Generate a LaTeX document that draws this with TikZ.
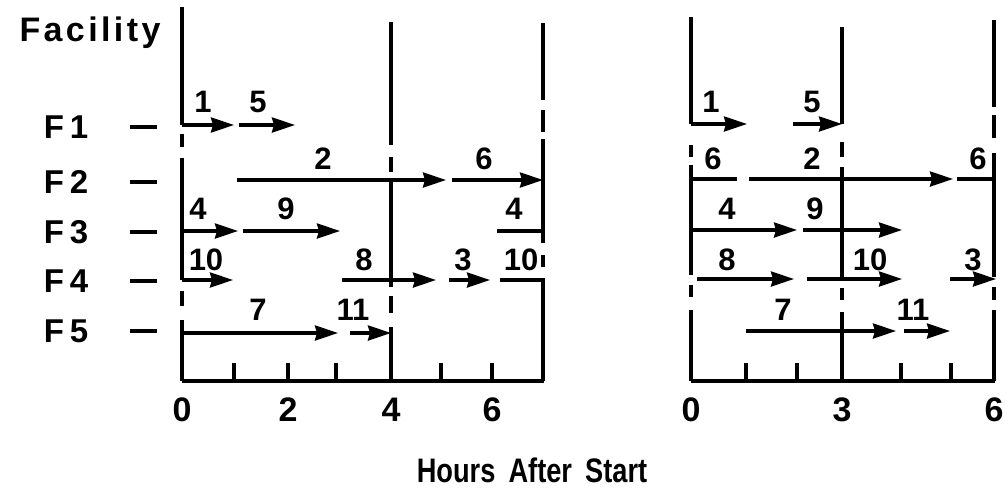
\documentclass[tikz,border=0pt]{standalone}
\usepackage{fontspec}
\usepackage{graphicx}
\setmainfont{Liberation Sans}
\newfontfamily\lblfont{Liberation Sans Bold}
\newfontfamily\facfont[LetterSpace=10]{Liberation Sans Bold}
\newfontfamily\rowfont[LetterSpace=18]{Liberation Sans Bold}
\usetikzlibrary{arrows.meta}
\tikzset{
  ln/.style={line width=3.3pt},
  ar/.style={line width=3.3pt,-{Stealth[length=23pt,width=15pt,inset=2pt]}},
  num/.style={font=\lblfont\fontsize{31}{31}\selectfont,inner sep=0pt},
  ax/.style={font=\lblfont\fontsize{34}{34}\selectfont,inner sep=0pt},
  rowlbl/.style={font=\rowfont\fontsize{33}{33}\selectfont,inner sep=0pt},
  big/.style={font=\facfont\fontsize{34}{34}\selectfont,inner sep=0pt},
  title/.style={font=\lblfont\fontsize{34}{34}\selectfont,inner sep=0pt},
}
\begin{document}
\begin{tikzpicture}[x=1pt,y=-1pt]
\useasboundingbox (0,0) rectangle (1008,501);
% ---------- labels left ----------
\node[big] (fac) at (90,33) {Facility};
\foreach \n/\y in {1/127,2/182,3/232,4/281,5/331}{
  \node[rowlbl] (F\n) at (66,\y) {F\n};
  \draw[ln] (130,\y) -- (157,\y);
}
% ---------- left chart ----------
% vertical line at 0
\draw[ln] (182,7) -- (182,125);
\draw[ln] (182,134) -- (182,147);
\draw[ln] (182,158) -- (182,280);
\draw[ln] (182,291) -- (182,306);
\draw[ln] (182,320) -- (182,381);
% vertical line at 4
\draw[ln] (391,22) -- (391,145);
\draw[ln] (391,157) -- (391,172);
\draw[ln] (391,178) -- (391,287);
\draw[ln] (391,296) -- (391,313);
\draw[ln] (391,327) -- (391,381);
% vertical line at 7
\draw[ln] (543,23) -- (543,100);
\draw[ln] (543,110) -- (543,132);
\draw[ln] (543,139) -- (543,243);
\draw[ln] (543,255) -- (543,267);
% axis
\draw[ln] (182,381) -- (544,381);
\foreach \x in {234,288,336,441,492}{ \draw[ln] (\x,381) -- (\x,363); }
\foreach \x/\t in {182/0,288/2,391/4,492/6}{ \node[ax] at (\x,410) {\t}; }
% F1
\draw[ar] (182,125) -- (234,125);  \node[num] at (203,102) {1};
\draw[ar] (239,125) -- (295,125);  \node[num] at (258,102) {5};
% F2
\draw[ar] (237,180) -- (446,180);  \node[num] at (323,159) {2};
\draw[ar] (452,180) -- (543,180);  \node[num] at (484,159) {6};
% F3
\draw[ar] (182,231) -- (238,231);  \node[num] at (198,209) {4};
\draw[ar] (243,231) -- (340,231);  \node[num] at (286,209) {9};
\draw[ln] (497,231) -- (543,231);  \node[num] at (514,209) {4};
% F4
\draw[ar] (182,280) -- (233,280);  \node[num] at (206,260) {10};
\draw[ar] (342,280) -- (436,280);  \node[num] at (364,260) {8};
\draw[ar] (449,280) -- (490,280);  \node[num] at (463,260) {3};
\draw[ln] (500,280) -- (543,280) -- (543,381);  \node[num] at (521,260) {10};
% F5
\draw[ar] (182,333) -- (338,333);  \node[num] at (258,310) {7};
\draw[ar] (350,333) -- (391,333);  \node[num] at (353,310) {11};
% ---------- right chart ----------
\draw[ln] (691,17) -- (691,124);
\draw[ln] (691,145) -- (691,157);
\draw[ln] (691,165) -- (691,275);
\draw[ln] (691,285) -- (691,297);
\draw[ln] (691,310) -- (691,381);
\draw[ln] (842,27) -- (842,124);
\draw[ln] (842,142) -- (842,157);
\draw[ln] (842,167) -- (842,278);
\draw[ln] (842,288) -- (842,300);
\draw[ln] (842,312) -- (842,381);
\draw[ln] (994,20) -- (994,107);
\draw[ln] (994,115) -- (994,138);
\draw[ln] (994,153) -- (994,277);
\draw[ln] (994,287) -- (994,300);
\draw[ln] (994,310) -- (994,381);
\draw[ln] (691,381) -- (995,381);
\foreach \x in {746,797,901,951}{ \draw[ln] (\x,381) -- (\x,363); }
\foreach \x/\t in {691/0,842/3,994/6}{ \node[ax] at (\x,410) {\t}; }
% F1
\draw[ar] (691,124) -- (747,124);  \node[num] at (711,102) {1};
\draw[ar] (793,124) -- (842,124);  \node[num] at (812,102) {5};
% F2
\draw[ln] (691,179) -- (737,179);  \node[num] at (713,159) {6};
\draw[ar] (749,179) -- (953,179);  \node[num] at (812,159) {2};
\draw[ln] (957,179) -- (994,179);  \node[num] at (978,159) {6};
% F3
\draw[ar] (691,230) -- (797,230);  \node[num] at (727,209) {4};
\draw[ar] (803,230) -- (902,230);  \node[num] at (815,209) {9};
% F4
\draw[ar] (697,279) -- (794,279);  \node[num] at (727,260) {8};
\draw[ar] (807,279) -- (902,279);  \node[num] at (870,260) {10};
\draw[ar] (950,279) -- (996,279);  \node[num] at (973,260) {3};
% F5
\draw[ar] (746,331) -- (896,331);  \node[num] at (783,310) {7};
\draw[ar] (904,331) -- (950,331);  \node[num] at (913,310) {11};
% ---------- title ----------
\node[title] (hrs) at (532,470) {\scalebox{0.8}[1]{Hours\hspace{7pt} After\hspace{7pt} Start}};
\end{tikzpicture}
\end{document}
